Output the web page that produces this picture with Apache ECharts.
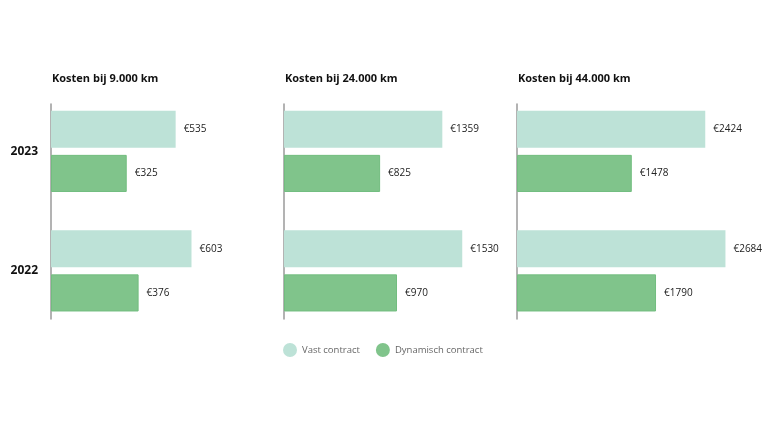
<!DOCTYPE html>
<html>
<head>
<meta charset="utf-8">
<script src="https://cdn.jsdelivr.net/npm/echarts@6/dist/echarts.min.js"></script>
<style>html,body{margin:0;padding:0;background:#fff}#c{width:768px;height:432px}</style>
</head>
<body>
<div id="c"></div>
<script>
const categories = ['2023', '2022'];
const panelTitles = ['Kosten bij 9.000 km', 'Kosten bij 24.000 km', 'Kosten bij 44.000 km'];
const seriesNames = ['Vast contract', 'Dynamisch contract'];
const vast9 = [535, 603];
const dyn9 = [325, 376];
const vast24 = [1359, 1530];
const dyn24 = [825, 970];
const vast44 = [2424, 2684];
const dyn44 = [1478, 1790];
const axisMax = [1000, 2000, 3000];

const vastData = [vast9, vast24, vast44];
const dynData = [dyn9, dyn24, dyn44];

const FONT = '"Open Sans", "Noto Sans", sans-serif';
const lefts = [51, 284, 517];
const W = 233;
const colors = ['#bde2d7', '#80c48b'];

const grids = [], xAxes = [], yAxes = [], series = [], titles = [];
for (let i = 0; i < 3; i++) {
  grids.push({ left: lefts[i], width: W, top: 91.6, height: 239 });
  xAxes.push({ gridIndex: i, type: 'value', min: 0, max: axisMax[i], show: false });
  yAxes.push({
    gridIndex: i, type: 'category', data: categories, inverse: true,
    axisLine: { show: false }, axisTick: { show: false },
    axisLabel: { show: i === 0, margin: 13, fontFamily: FONT, fontSize: 12, fontWeight: 'bold', color: '#111' }
  });
  titles.push({
    text: panelTitles[i], left: lefts[i] - 4, top: 68,
    textStyle: { fontFamily: FONT, fontSize: 11, fontWeight: 'bold', color: '#111' }
  });
  const lbl = { show: true, position: 'right', distance: 8, fontFamily: FONT, fontSize: 10, color: '#222', formatter: p => '€' + p.value };
  series.push({
    name: seriesNames[0], type: 'bar', xAxisIndex: i, yAxisIndex: i, data: vastData[i],
    barCategoryGap: '32%', barGap: '19%',
    itemStyle: { color: colors[0] }, label: lbl, emphasis: { disabled: true }
  });
  series.push({
    name: seriesNames[1], type: 'bar', xAxisIndex: i, yAxisIndex: i, data: dynData[i],
    barCategoryGap: '32%', barGap: '19%',
    itemStyle: { color: colors[1], borderColor: '#72bd7f', borderWidth: 1 }, label: lbl, emphasis: { disabled: true }
  });
}
// separate grids carrying only the vertical axis line of each panel
for (let i = 0; i < 3; i++) {
  grids.push({ left: lefts[i], width: W, top: 104, height: 215 });
  xAxes.push({ gridIndex: 3 + i, type: 'value', min: 0, max: 1, show: false });
  yAxes.push({
    gridIndex: 3 + i, type: 'category', data: categories,
    axisLine: { show: true, lineStyle: { color: '#9a9a9a', width: 1.5 } },
    axisTick: { show: false }, axisLabel: { show: false }, splitLine: { show: false }
  });
}

const chart = echarts.init(document.getElementById('c'), null, { renderer: 'canvas' });
chart.setOption({
  backgroundColor: '#fff',
  animation: false,
  color: colors,
  title: titles,
  legend: {
    data: seriesNames, left: 278, top: 338, icon: 'circle',
    itemWidth: 14, itemHeight: 14, itemGap: 16,
    itemStyle: { borderWidth: 0 },
    textStyle: { fontFamily: FONT, fontSize: 9.5, color: '#666' }
  },
  grid: grids, xAxis: xAxes, yAxis: yAxes, series: series
});
</script>
</body>
</html>
